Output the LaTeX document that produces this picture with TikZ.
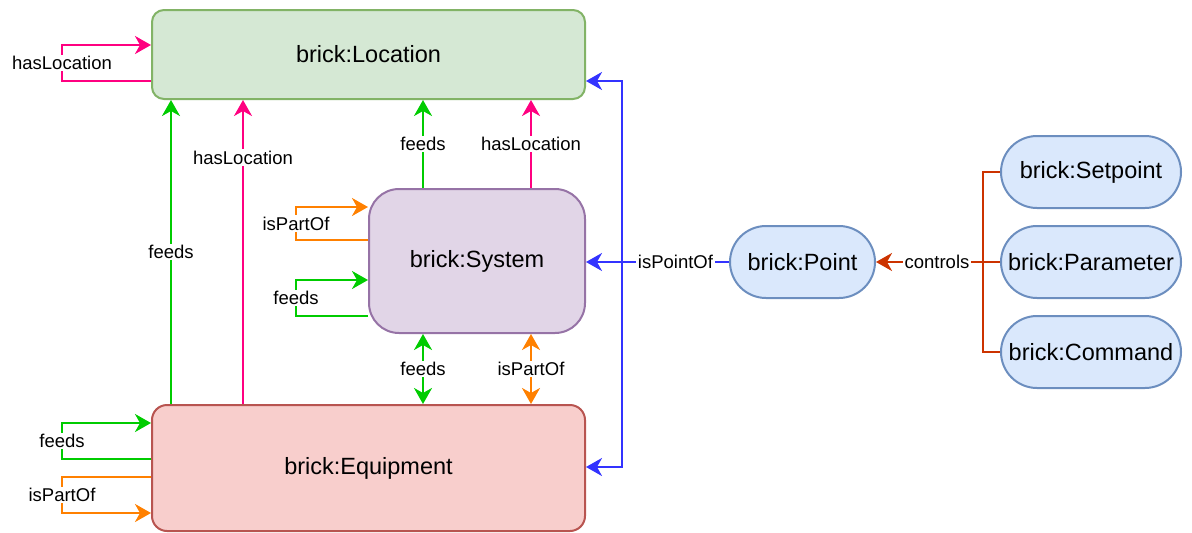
\documentclass[tikz,border=0pt]{standalone}
\usepackage{fontspec}
\setmainfont{Liberation Sans}
\usetikzlibrary{arrows.meta}

\definecolor{locfill}{HTML}{D5E8D4}
\definecolor{locdraw}{HTML}{82B366}
\definecolor{sysfill}{HTML}{E1D5E7}
\definecolor{sysdraw}{HTML}{9673A6}
\definecolor{equfill}{HTML}{F8CECC}
\definecolor{equdraw}{HTML}{B85450}
\definecolor{ptfill}{HTML}{DAE8FC}
\definecolor{ptdraw}{HTML}{6C8EBF}
\definecolor{cgreen}{HTML}{00CC00}
\definecolor{cpink}{HTML}{FF0080}
\definecolor{corange}{HTML}{FF8000}
\definecolor{cblue}{HTML}{3333FF}
\definecolor{cred}{HTML}{CC3300}

\tikzset{
  box/.style={draw, line width=2pt, inner sep=0pt, font=\fontsize{23.5}{26}\selectfont},
  locbox/.style={box, fill=locfill, draw=locdraw, rounded corners=12pt,
                 minimum width=433pt, minimum height=89pt},
  sysbox/.style={box, fill=sysfill, draw=sysdraw, rounded corners=30pt,
                 minimum width=216pt, minimum height=144pt},
  equbox/.style={box, fill=equfill, draw=equdraw, rounded corners=15pt,
                 minimum width=433pt, minimum height=126pt},
  pill/.style={box, fill=ptfill, draw=ptdraw, rounded corners=36pt,
               minimum height=72pt},
  link/.style={line width=2.3pt},
  toarr/.style={-{Stealth[length=16pt,width=18pt,inset=5pt]}},
  botharr/.style={{Stealth[length=16pt,width=18pt,inset=5pt]}-{Stealth[length=16pt,width=18pt,inset=5pt]}},
  gline/.style={link, draw=cgreen},
  pline/.style={link, draw=cpink},
  oline/.style={link, draw=corange},
  bline/.style={link, draw=cblue},
  rline/.style={link, draw=cred},
  lbl/.style={fill=white, text=black, inner sep=1.5pt,
              font=\fontsize{18.5}{20}\selectfont},
}

\begin{document}
\begin{tikzpicture}[x=1pt, y=-1pt]
  \useasboundingbox (0,0) rectangle (1192,533);

  % classes
  \node[locbox] (loc) at (368.5,54.5) {brick:Location};
  \node[sysbox] (sys) at (477,261) {brick:System};
  \node[equbox] (equ) at (368.5,468) {brick:Equipment};
  \node[pill, minimum width=145pt] (pt) at (802.5,262) {brick:Point};
  \node[pill, minimum width=180pt] (sp) at (1091,172) {brick:Setpoint};
  \node[pill, minimum width=180pt] (par) at (1091,262) {brick:Parameter};
  \node[pill, minimum width=180pt] (cmd) at (1091,352) {brick:Command};

  % junctions
  \coordinate (bj) at (622,262);
  \coordinate (cj) at (983,262);

  % Location self loop
  \draw[pline,toarr] (loc.west |- 0,81) -- (62,81)
      -- node[lbl]{hasLocation} (62,45) -- (loc.west |- 0,45);

  % Equipment -> Location
  \draw[gline,toarr] (equ.north -| 171,0) -- node[lbl]{feeds} (loc.south -| 171,0);
  \draw[pline,toarr] (equ.north -| 243,0) -- node[lbl,pos=0.81]{hasLocation} (loc.south -| 243,0);

  % System -> Location
  \draw[gline,toarr] (sys.north -| 423,0) -- node[lbl]{feeds} (loc.south -| 423,0);
  \draw[pline,toarr] (sys.north -| 531,0) -- node[lbl]{hasLocation} (loc.south -| 531,0);

  % System <-> Equipment
  \draw[gline,botharr] (sys.south -| 423,0) -- node[lbl]{feeds} (equ.north -| 423,0);
  \draw[oline,botharr] (sys.south -| 531,0) -- node[lbl]{isPartOf} (equ.north -| 531,0);

  % System self loops
  \draw[oline,toarr] (sys.west |- 0,240) -- (296,240)
      -- node[lbl]{isPartOf} (296,207) -- (sys.west |- 0,207);
  \draw[gline,toarr] (sys.west |- 0,316) -- (296,316)
      -- node[lbl]{feeds} (296,280) -- (sys.west |- 0,280);

  % Equipment self loops
  \draw[gline,toarr] (equ.west |- 0,459) -- (62,459)
      -- node[lbl]{feeds} (62,423) -- (equ.west |- 0,423);
  \draw[oline,toarr] (equ.west |- 0,477) -- (62,477)
      -- node[lbl]{isPartOf} (62,513) -- (equ.west |- 0,513);

  % isPointOf
  \draw[bline,toarr] (pt.west) -- node[lbl]{isPointOf} (bj) -- (sys.east |- bj);
  \draw[bline,toarr] (bj) -- (622,81) -- (loc.east |- 0,81);
  \draw[bline,toarr] (bj) -- (622,467) -- (equ.east |- 0,467);

  % controls
  \draw[rline] (sp.west) -| (cj);
  \draw[rline] (cmd.west) -| (cj);
  \draw[rline,toarr] (par.west) -- (cj) -- node[lbl,pos=0.43]{controls} (pt.east);
\end{tikzpicture}
\end{document}
